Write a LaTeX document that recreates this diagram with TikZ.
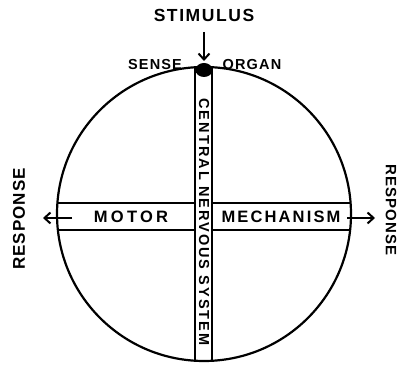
\documentclass[tikz,border=0pt]{standalone}
\usepackage{fontspec}
\setmainfont{Liberation Sans}
\usetikzlibrary{arrows.meta,calc}
\begin{document}
\begin{tikzpicture}[x=1pt,y=-1pt,line width=2.2pt,
  lbl/.style={inner sep=0pt,font=\bfseries},
  arr/.style={-{Straight Barb[length=6pt,width=11pt,line width=2pt]}}]
\useasboundingbox (0,0) rectangle (400,366);
% circle
\coordinate (c) at (204,214);
\draw (c) circle[radius=147pt];
% vertical bar (central nervous system)
\coordinate (vlt) at (195,67.3);
\coordinate (vlb) at (195,360.7);
\coordinate (vrt) at (212,67.2);
\coordinate (vrb) at (212,360.8);
\draw (vlt) -- (vlb);
\draw (vrt) -- (vrb);
% horizontal bar
\coordinate (hlt) at (57.3,203);
\coordinate (hlb) at (57.8,230);
\coordinate (hrt) at (350.7,203);
\coordinate (hrb) at (350.2,230);
\draw (hlt) -- (195,203);
\draw (hlb) -- (195,230);
\draw (212,203) -- (hrt);
\draw (212,230) -- (hrb);
% sense organ blob
\fill (204,70) ellipse[x radius=8.5pt,y radius=7pt];
% texts
\node[lbl,font=\bfseries\fontsize{17.5}{17.5}\selectfont\addfontfeature{LetterSpace=9}] (stim) at (204,15) {STIMULUS};
\node[lbl,font=\bfseries\fontsize{14.5}{14.5}\selectfont\addfontfeature{LetterSpace=8}] (sense) at (155,65) {SENSE};
\node[lbl,font=\bfseries\fontsize{14.5}{14.5}\selectfont\addfontfeature{LetterSpace=8}] (organ) at (252,65) {ORGAN};
\node[lbl,font=\bfseries\fontsize{16.5}{16.5}\selectfont\addfontfeature{LetterSpace=20}] (motor) at (131,217) {MOTOR};
\node[lbl,font=\bfseries\fontsize{16.5}{16.5}\selectfont\addfontfeature{LetterSpace=13}] (mech) at (281,217) {MECHANISM};
\node[lbl,rotate=-90,font=\bfseries\fontsize{14.5}{14.5}\selectfont\addfontfeature{LetterSpace=14}] (cns) at (204,222) {CENTRAL NERVOUS SYSTEM};
\node[lbl,rotate=90,font=\bfseries\fontsize{17}{17}\selectfont\addfontfeature{LetterSpace=6}] (respl) at (19,219) {RESPONSE};
\node[lbl,rotate=-90,font=\bfseries\fontsize{15}{15}\selectfont\addfontfeature{LetterSpace=8}] (respr) at (391,210) {RESPONSE};
% arrows
\coordinate (sa) at (204,32);
\coordinate (sb) at (204,61);
\draw[arr] (sa) -- (sb);
\coordinate (la) at (72,218);
\coordinate (lb) at (43,218);
\draw[arr] (la) -- (lb);
\coordinate (ra) at (347,218);
\coordinate (rb) at (375,218);
\draw[arr] (ra) -- (rb);
\end{tikzpicture}
\end{document}
